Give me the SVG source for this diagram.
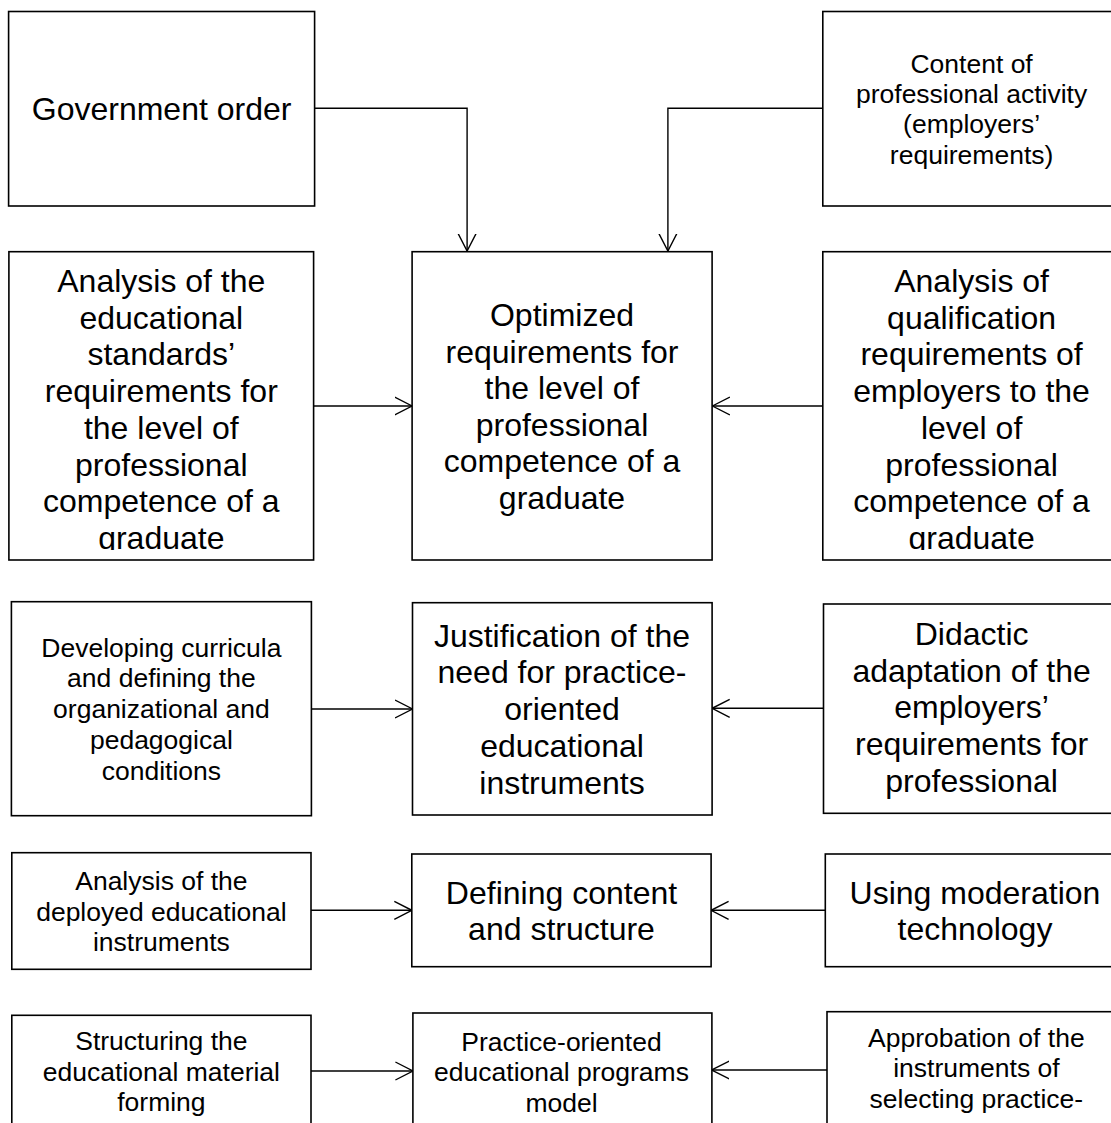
<svg xmlns="http://www.w3.org/2000/svg" width="1111" height="1123" viewBox="0 0 1111 1123">
<style>
.box{fill:#fff;stroke:#000;stroke-width:1.6}
.t{font-family:"Liberation Sans",Arial,sans-serif;text-anchor:middle;fill:#000}
.l{font-size:32px}
.s{font-size:26.5px}
.c{fill:none;stroke:#000;stroke-width:1.4}
</style>
<defs>
<marker id="ah" markerUnits="userSpaceOnUse" viewBox="0 0 18 20" refX="17.5" refY="10" markerWidth="18" markerHeight="20" orient="auto">
<path d="M0,1 L17.5,10 L0,19" fill="none" stroke="#000" stroke-width="1.4"/>
</marker>
<clipPath id="clipL"><rect x="0" y="250" width="320" height="300"/></clipPath>
<clipPath id="clipR"><rect x="815" y="250" width="300" height="300"/></clipPath>
</defs>
<rect width="1111" height="1123" fill="#fff"/>

<g id="connectors">
<path class="c" d="M314.6,108.3 H467.1 V251" marker-end="url(#ah)"/>
<path class="c" d="M822.8,108.3 H667.9 V251" marker-end="url(#ah)"/>
<path class="c" d="M313.6,406 H412" marker-end="url(#ah)"/>
<path class="c" d="M822.8,406 H712.4" marker-end="url(#ah)"/>
<path class="c" d="M311.4,709 H412.5" marker-end="url(#ah)"/>
<path class="c" d="M823.5,708.3 H712.2" marker-end="url(#ah)"/>
<path class="c" d="M311,910.3 H411.8" marker-end="url(#ah)"/>
<path class="c" d="M825.3,910.3 H711.1" marker-end="url(#ah)"/>
<path class="c" d="M311,1071 H412.9" marker-end="url(#ah)"/>
<path class="c" d="M827,1070 H711.8" marker-end="url(#ah)"/>
</g>

<g id="government-order">
<rect class="box" x="8.6" y="11.5" width="306" height="194.5"/>
<text class="t l" x="161.6" y="120">Government order</text>
</g>

<g id="content-professional-activity">
<rect class="box" x="822.8" y="11.5" width="300" height="194.5"/>
<text class="t s"><tspan x="971.6" y="72.5">Content of</tspan><tspan x="971.6" y="102.9">professional activity</tspan><tspan x="971.6" y="133.3">(employers’</tspan><tspan x="971.6" y="163.7">requirements)</tspan></text>
</g>

<g id="analysis-standards">
<rect class="box" x="8.9" y="251.7" width="304.7" height="308.3"/>
<text class="t l" clip-path="url(#clipL)"><tspan x="161.3" y="292">Analysis of the</tspan><tspan x="161.3" y="328.7">educational</tspan><tspan x="161.3" y="365.4">standards’</tspan><tspan x="161.3" y="402.1">requirements for</tspan><tspan x="161.3" y="438.8">the level of</tspan><tspan x="161.3" y="475.5">professional</tspan><tspan x="161.3" y="512.2">competence of a</tspan><tspan x="161.3" y="548.9">graduate</tspan></text>
</g>

<g id="optimized-requirements">
<rect class="box" x="412.1" y="251.7" width="300" height="308.3"/>
<text class="t l"><tspan x="562" y="326">Optimized</tspan><tspan x="562" y="362.6">requirements for</tspan><tspan x="562" y="399.2">the level of</tspan><tspan x="562" y="435.8">professional</tspan><tspan x="562" y="472.4">competence of a</tspan><tspan x="562" y="509">graduate</tspan></text>
</g>

<g id="analysis-qualification">
<rect class="box" x="822.8" y="251.7" width="300" height="308.3"/>
<text class="t l" clip-path="url(#clipR)"><tspan x="971.6" y="292">Analysis of</tspan><tspan x="971.6" y="328.7">qualification</tspan><tspan x="971.6" y="365.4">requirements of</tspan><tspan x="971.6" y="402.1">employers to the</tspan><tspan x="971.6" y="438.8">level of</tspan><tspan x="971.6" y="475.5">professional</tspan><tspan x="971.6" y="512.2">competence of a</tspan><tspan x="971.6" y="548.9">graduate</tspan></text>
</g>

<g id="developing-curricula">
<rect class="box" x="11.4" y="601.7" width="300" height="214"/>
<text class="t s"><tspan x="161.4" y="656.6">Developing curricula</tspan><tspan x="161.4" y="687.4">and defining the</tspan><tspan x="161.4" y="718.2">organizational and</tspan><tspan x="161.4" y="749">pedagogical</tspan><tspan x="161.4" y="779.8">conditions</tspan></text>
</g>

<g id="justification">
<rect class="box" x="412.5" y="602.7" width="299.6" height="212.3"/>
<text class="t l"><tspan x="562" y="646.7">Justification of the</tspan><tspan x="562" y="683.4">need for practice-</tspan><tspan x="562" y="720.1">oriented</tspan><tspan x="562" y="756.8">educational</tspan><tspan x="562" y="793.5">instruments</tspan></text>
</g>

<g id="didactic-adaptation">
<rect class="box" x="823.5" y="604" width="300" height="209.3"/>
<text class="t l"><tspan x="971.6" y="645">Didactic</tspan><tspan x="971.6" y="681.7">adaptation of the</tspan><tspan x="971.6" y="718.4">employers’</tspan><tspan x="971.6" y="755.1">requirements for</tspan><tspan x="971.6" y="791.8">professional</tspan></text>
</g>

<g id="analysis-deployed">
<rect class="box" x="11.8" y="852.7" width="299.2" height="116.6"/>
<text class="t s"><tspan x="161.4" y="890">Analysis of the</tspan><tspan x="161.4" y="920.5">deployed educational</tspan><tspan x="161.4" y="951">instruments</tspan></text>
</g>

<g id="defining-content">
<rect class="box" x="411.8" y="854" width="299.3" height="112.7"/>
<text class="t l"><tspan x="561.5" y="903.5">Defining content</tspan><tspan x="561.5" y="940.2">and structure</tspan></text>
</g>

<g id="using-moderation">
<rect class="box" x="825.3" y="854" width="300" height="112.7"/>
<text class="t l"><tspan x="975" y="903.5">Using moderation</tspan><tspan x="975" y="940.2">technology</tspan></text>
</g>

<g id="structuring">
<rect class="box" x="11.8" y="1015.3" width="299.2" height="200"/>
<text class="t s"><tspan x="161.4" y="1050">Structuring the</tspan><tspan x="161.4" y="1080.5">educational material</tspan><tspan x="161.4" y="1111">forming</tspan></text>
</g>

<g id="practice-model">
<rect class="box" x="412.9" y="1013" width="299" height="200"/>
<text class="t s"><tspan x="561.5" y="1050.5">Practice-oriented</tspan><tspan x="561.5" y="1081">educational programs</tspan><tspan x="561.5" y="1111.5">model</tspan></text>
</g>

<g id="approbation">
<rect class="box" x="827" y="1011.7" width="300" height="200"/>
<text class="t s"><tspan x="976.4" y="1046.7">Approbation of the</tspan><tspan x="976.4" y="1077.2">instruments of</tspan><tspan x="976.4" y="1107.7">selecting practice-</tspan></text>
</g>
</svg>
